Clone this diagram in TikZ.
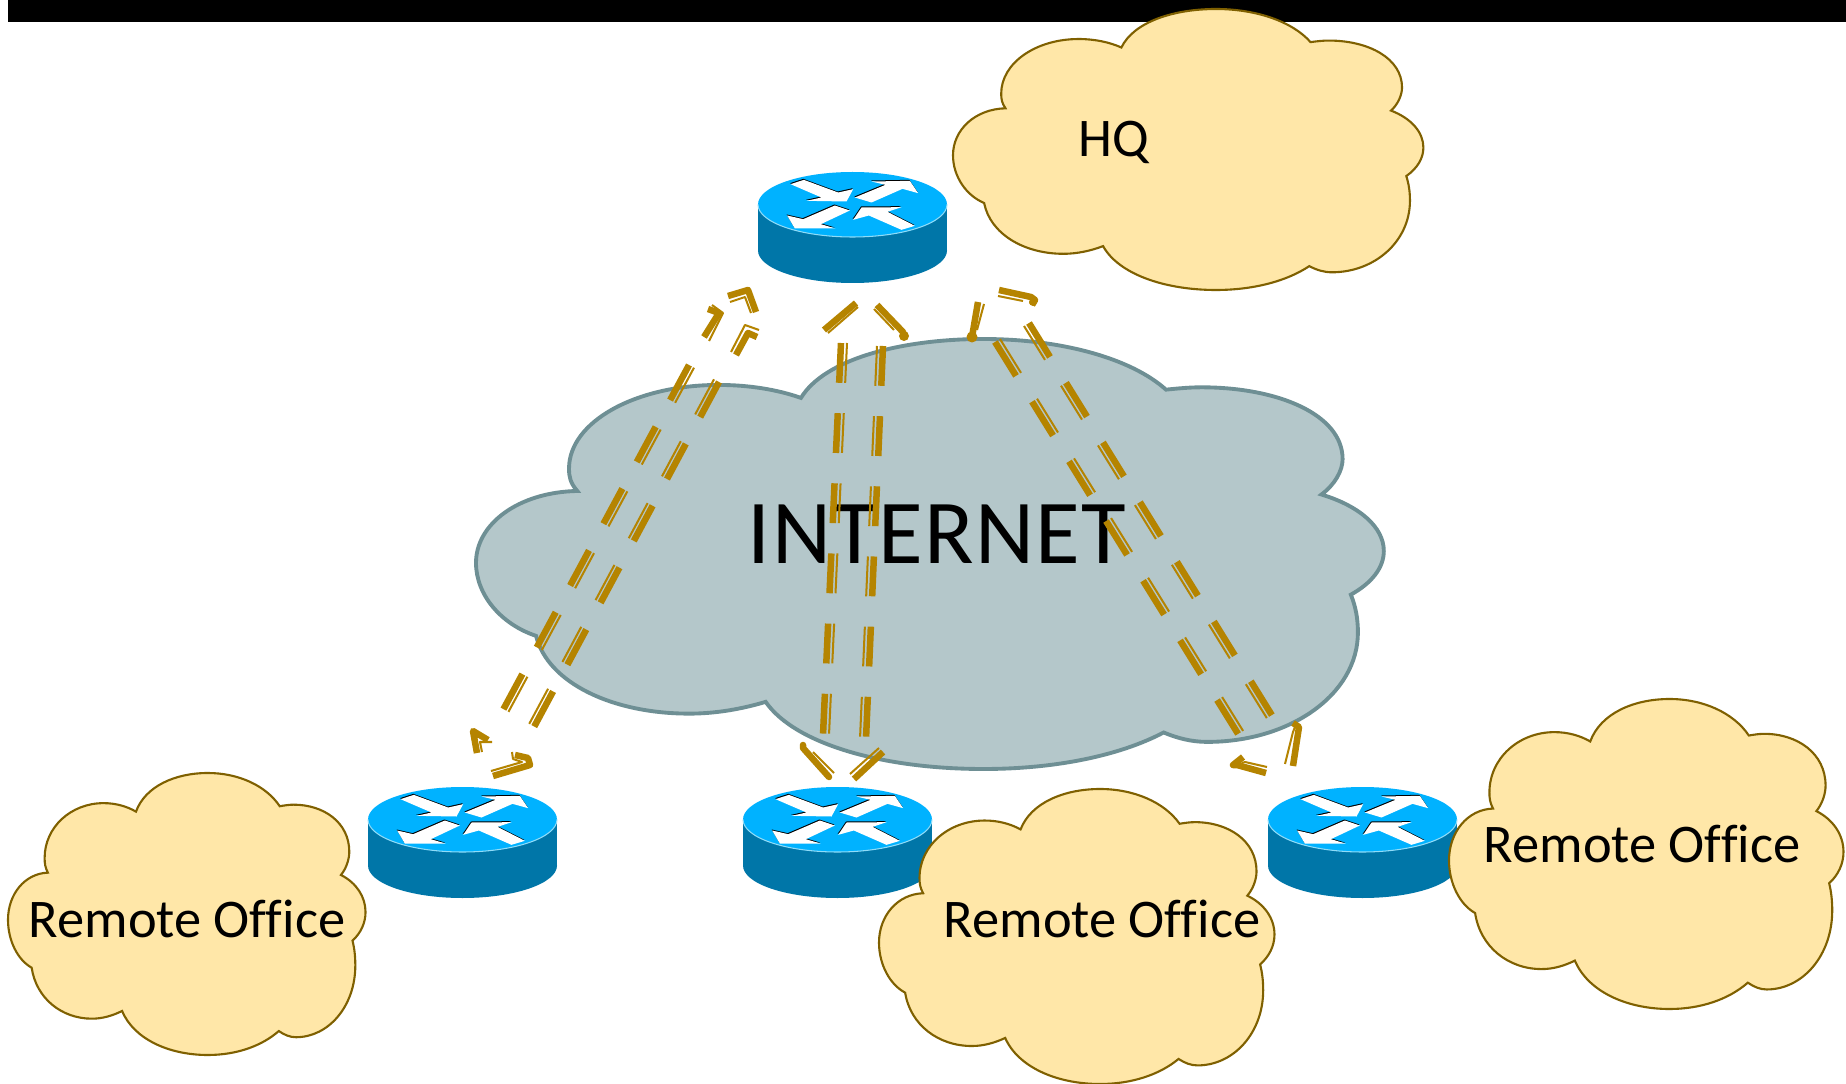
\documentclass[tikz,border=0pt]{standalone}
\usepackage{fontspec}
\setmainfont[Ligatures=NoCommon]{Carlito}
\definecolor{inetfill}{HTML}{B4C7CA}
\definecolor{inetline}{HTML}{6E8F94}
\definecolor{sitefill}{HTML}{FFE7A8}
\definecolor{siteline}{HTML}{7F6000}
\definecolor{gold}{HTML}{B58400}
\definecolor{rtop}{HTML}{00B2FF}
\definecolor{rside}{HTML}{0076A8}
\definecolor{rrim}{HTML}{8FDCF8}
\tikzset{
  inetcloud/.style={fill=inetfill,draw=inetline,line width=2.2pt},
  sitecloud/.style={fill=sitefill,draw=siteline,line width=1.2pt},
  tunthick/.style={draw=gold,line width=3.7pt,dash pattern=on 22.68pt off 17.29pt},
  tunthin/.style={draw=gold,line width=1.15pt,dash pattern=on 22.68pt off 17.29pt},
  chevthick/.style={draw=gold,line width=3.7pt,line join=round},
  chevthin/.style={draw=gold,line width=1.15pt,line join=round},
  sitelabel/.style={font=\fontsize{31}{36}\selectfont,text=black,inner sep=0pt},
}
\newcommand{\cloudpath}[5]{% style x y w h
  \begin{scope}[shift={(#2,#3)},x={0.02cm*#4/772},y={-0.02cm*#5/365},shift={(-404,-288)}]
    \path[#1] (490,417)
      .. controls (484,410) and (483,405) .. (483,398)
      .. controls (483,358) and (540,327) .. (610,327)
      .. controls (636,327) and (660,331) .. (680,338)
      .. controls (700,305) and (765,288) .. (835,288)
      .. controls (900,288) and (960,304) .. (990,331)
      .. controls (1000,330) and (1010,329) .. (1020,329)
      .. controls (1085,329) and (1140,352) .. (1140,390)
      .. controls (1140,400) and (1133,412) .. (1122,420)
      .. controls (1155,430) and (1175,448) .. (1175,468)
      .. controls (1175,482) and (1165,495) .. (1147,505)
      .. controls (1151,515) and (1153,525) .. (1153,537)
      .. controls (1153,590) and (1095,630) .. (1025,630)
      .. controls (1012,630) and (1000,627) .. (988,622)
      .. controls (950,642) and (895,653) .. (835,653)
      .. controls (750,653) and (675,632) .. (650,596)
      .. controls (630,602) and (608,606) .. (585,606)
      .. controls (520,606) and (465,580) .. (455,540)
      .. controls (425,530) and (404,505) .. (404,478)
      .. controls (404,445) and (440,418) .. (490,417)
      -- cycle;
  \end{scope}}
\newcommand{\routerglyph}[3]{% name cx cy
  \coordinate (#1) at (#2,#3);
  \fill[rside] (#2-94.5,#3) rectangle (#2+94.5,#3+46);
  \fill[rside] (#2,#3+46) ellipse[x radius=94.5,y radius=32.5];
  \fill[rtop] (#2,#3) ellipse[x radius=94.5,y radius=32.5];
  \draw[rrim,line width=0.6pt] (#2-94.5,#3) arc[x radius=94.5,y radius=32.5,start angle=180,delta angle=-180];
  \begin{scope}[shift={(#2,#3)},x=0.00667cm,y=-0.00667cm,shift={(-398,-164)}]
    \foreach \col/\dx/\dy in {black/-1.5/-3,white/0/0}{
      \fill[\col,shift={(\dx,\dy)}] (212,103)--(252,90)--(355,128)--(400,118)--(380,155)--(260,153)--(305,143)--cycle;
      \fill[\col,shift={(\dx,\dy)}] (405,143)--(497,105)--(455,95)--(570,93)--(595,130)--(548,117)--(455,158)--cycle;
      \fill[\col,shift={(\dx,\dy)}] (390,182)--(345,167)--(250,208)--(202,197)--(225,236)--(347,236)--(303,223)--cycle;
      \fill[\col,shift={(\dx,\dy)}] (585,228)--(545,240)--(447,197)--(400,210)--(425,173)--(545,172)--(503,186)--cycle;
    }
  \end{scope}}
\begin{document}
\begin{tikzpicture}[x=0.02cm,y=-0.02cm]
\useasboundingbox (0,0) rectangle (1846,1084);
\fill[white] (0,0) rectangle (1846,1084);
\fill[black] (8,0) rectangle (1846,22);

\routerglyph{rhq}{852.5}{204.5}
\routerglyph{rleft}{462.5}{819.5}
\routerglyph{rmid}{837.5}{819.5}
\routerglyph{rright}{1362.5}{819.5}

\cloudpath{inetcloud}{476}{339}{909}{430}
\cloudpath{sitecloud}{953}{9}{471}{281}
\cloudpath{sitecloud}{8}{773}{358}{282}
\cloudpath{sitecloud}{879}{789}{396}{295}
\cloudpath{sitecloud}{1449}{699}{395}{310}

\node[font=\fontsize{52}{60}\selectfont\addfontfeature{LetterSpace=1.5},text=black,inner sep=0pt] (inet) at (937,534) {INTERNET};
\node[sitelabel] (hq) at (1114,142) {HQ};
\node[sitelabel] (ro1) at (187,919) {Remote Office};
\node[sitelabel] (ro2) at (1102,919) {Remote Office};
\node[sitelabel] (ro3) at (1642,844) {Remote Office};

% tunnel runs
\coordinate (a0) at (689,365); \coordinate (a1) at (503,710);
\coordinate (b0) at (719,382); \coordinate (b1) at (534,727);
\coordinate (c0) at (841,343); \coordinate (c1) at (823,735);
\coordinate (d0) at (883,346); \coordinate (d1) at (866,739);
\coordinate (e0) at (995,342); \coordinate (e1) at (1240,737);
\coordinate (f0) at (1029,323); \coordinate (f1) at (1273,717);
\draw[tunthick] (a0) -- (a1);
\draw[tunthin] ([shift={(5,2.7)}]a0) -- ([shift={(5,2.7)}]a1);
\draw[tunthick] (b0) -- (b1);
\draw[tunthin] ([shift={(-5,-2.7)}]b0) -- ([shift={(-5,-2.7)}]b1);
\draw[tunthick] (c0) -- (c1);
\draw[tunthin] ([shift={(6,0)}]c0) -- ([shift={(6,0)}]c1);
\draw[tunthick] (d0) -- (d1);
\draw[tunthin] ([shift={(-6,0)}]d0) -- ([shift={(-6,0)}]d1);
\draw[tunthick] (e0) -- (e1);
\draw[tunthin] ([shift={(5,-3)}]e0) -- ([shift={(5,-3)}]e1);
\draw[tunthick] (f0) -- (f1);
\draw[tunthin] ([shift={(-5,3)}]f0) -- ([shift={(-5,3)}]f1);

% tunnel ends, left tunnel
\draw[chevthick] (477,753)--(473,731)--(488,740);
\draw[chevthin] (482,752)--(480,742)--(492,742);
\draw[chevthick] (704,337)--(719,313)--(708,309);
\draw[chevthin] (709,341)--(723,313)--(712,305);
\draw[chevthick] (736,355)--(748,333)--(757,337);
\draw[chevthin] (731,352)--(745,325)--(759,330);
\draw[chevthick] (728,296)--(748,290)--(756,312);
\draw[chevthin] (730,302)--(745,297)--(751,313);
\draw[chevthick] (493,776)--(530,765)--(528,758)--(515,755);
\draw[chevthin] (491,771)--(522,762)--(513,759)--(512,752);
% middle tunnel
\draw[chevthick] (856,303)--(824,330);
\draw[chevthin] (858,307)--(828,333);
\draw[chevthick] (877,305)--(903,332)--(904,337);
\draw[chevthin] (874,309)--(894,330);
\draw[chevthick,line cap=round] (803,745)--(803,748)--(829,777);
\draw[chevthin] (813,752)--(834,773);
\draw[chevthick] (883,752)--(854,779);
\draw[chevthin] (879,748)--(850,774);
% right tunnel
\draw[chevthick] (978,302)--(972,337);
\draw[chevthin] (984,304)--(977,330);
\draw[chevthick] (999,290)--(1031,297)--(1035,300)--(1032,305);
\draw[chevthin] (998,296)--(1023,301);
\draw[chevthick] (1293,766)--(1299,727)--(1293,723);
\draw[chevthin] (1285,764)--(1293,732)--(1295,727);
\draw[chevthick] (1266,773)--(1237,765)--(1233,765)--(1243,757);
\draw[chevthin] (1267,767)--(1245,762)--(1242,763);
% rounded tips
\fill[gold] (904,336) circle[radius=5];
\fill[gold] (972,337) circle[radius=5.5];
\fill[gold] (1033,302) circle[radius=4];
\end{tikzpicture}
\end{document}
